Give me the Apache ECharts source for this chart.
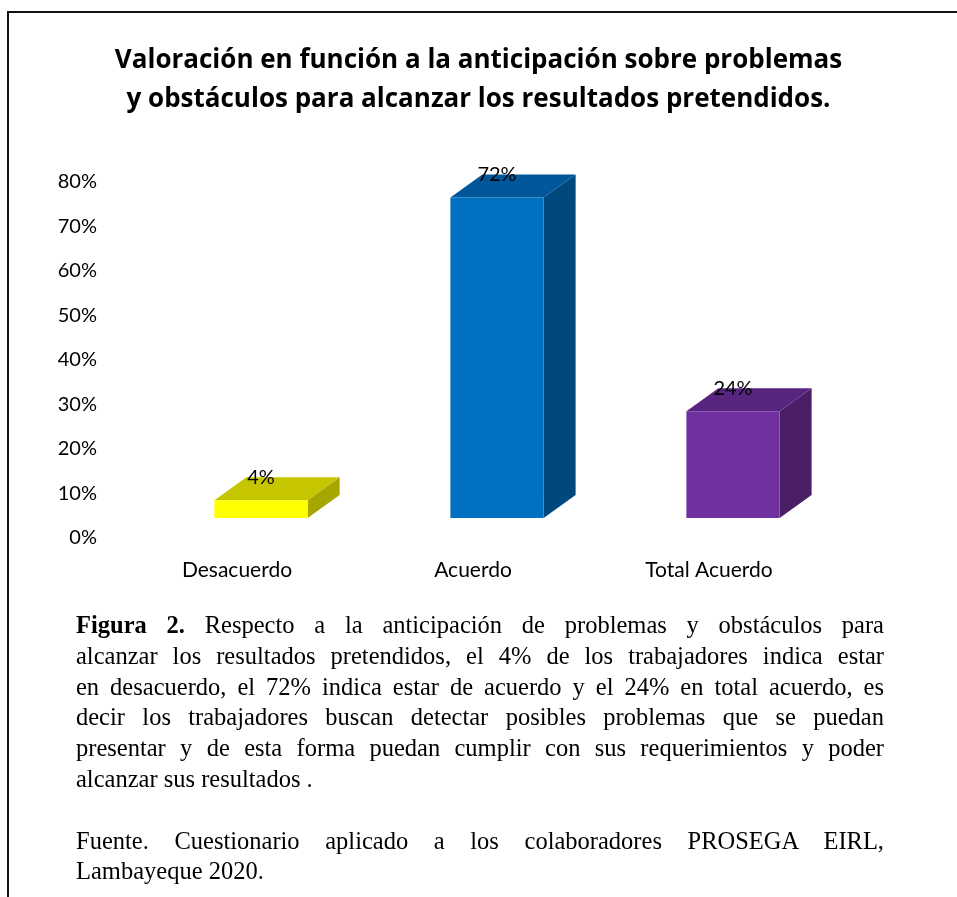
<!DOCTYPE html>
<html>
<head>
<meta charset="utf-8">
<script src="https://cdn.jsdelivr.net/npm/echarts@6/dist/echarts.min.js"></script>
<style>
html, body { margin: 0; padding: 0; background: #fff; }
#page { position: relative; width: 957px; height: 897px; overflow: hidden; }
#frame { position: absolute; left: 7px; top: 11px; right: -20px; bottom: -20px;
  border-top: 2px solid #111; border-left: 2px solid #111; }
#chart { position: absolute; left: 0; top: 0; width: 957px; height: 897px; }
#caption { position: absolute; left: 76px; top: 610px; width: 808px;
  font-family: "Liberation Serif", "Times New Roman", serif; font-size: 24.5px;
  line-height: 30.8px; color: #000; }
#caption div { white-space: nowrap; text-align: justify; text-align-last: justify; }
#caption div.last { text-align-last: left; }
</style>
</head>
<body>
<div id="page">
  <div id="frame"></div>
  <div id="chart"></div>
  <div id="caption">
    <div><b>Figura 2.</b> Respecto a la anticipación de problemas y obstáculos para</div>
    <div>alcanzar los resultados pretendidos, el 4% de los trabajadores indica estar</div>
    <div>en desacuerdo, el 72% indica estar de acuerdo y el 24% en total acuerdo, es</div>
    <div>decir los trabajadores buscan detectar posibles problemas que se puedan</div>
    <div>presentar y de esta forma puedan cumplir con sus requerimientos y poder</div>
    <div class="last">alcanzar sus resultados .</div>
    <div class="last">&nbsp;</div>
    <div>Fuente. Cuestionario aplicado a los colaboradores PROSEGA EIRL,</div>
    <div class="last">Lambayeque 2020.</div>
  </div>
</div>
<script>
// datos
var categories = ['Desacuerdo', 'Acuerdo', 'Total Acuerdo'];
var values = [4, 72, 24];

// colores de cada caja (frente, tapa, lado)
var palette = [
  {front: '#FFFF00', top: '#C6C600', side: '#A6A600'},
  {front: '#0070C0', top: '#00589A', side: '#00497F'},
  {front: '#7030A0', top: '#57257F', side: '#4A1F66'}
];

// efecto 3D
var SHIFT = 24, LIFT = 20, DX = 32, DY = 23;
var labelFont = 'Lato, "Open Sans", sans-serif';

function renderBox(params, api) {
  var i = api.value(0), v = api.value(1);
  var base = api.coord([i, 0]);
  var top = api.coord([i, v]);
  var w = api.size([1, 0])[0] * 0.395;
  var x0 = base[0] + SHIFT - w / 2, x1 = x0 + w;
  var yb = base[1] - LIFT, yt = top[1] - LIFT;
  var c = palette[i];
  return {
    type: 'group',
    children: [
      {type: 'polygon', shape: {points: [[x1, yt], [x1 + DX, yt - DY], [x1 + DX, yb - DY], [x1, yb]]}, style: {fill: c.side}},
      {type: 'polygon', shape: {points: [[x0, yt], [x1, yt], [x1 + DX, yt - DY], [x0 + DX, yt - DY]]}, style: {fill: c.top}},
      {type: 'rect', shape: {x: x0, y: yt, width: w, height: yb - yt}, style: {fill: c.front}},
      {type: 'text', x: x0 + w / 2, y: yt - DY,
        style: {text: v + '%', fill: '#000', fontSize: 20, fontFamily: labelFont, align: 'center', verticalAlign: 'middle'}}
    ]
  };
}

var chart = echarts.init(document.getElementById('chart'));
chart.setOption({
  animation: false,
  backgroundColor: 'transparent',
  title: {
    text: 'Valoración en función a la anticipación sobre problemas\ny obstáculos para alcanzar los resultados pretendidos.',
    left: 'center', top: 36,
    textStyle: {fontFamily: '"Open Sans", Lato, sans-serif', fontWeight: 'bold', fontSize: 26, lineHeight: 39, color: '#000'}
  },
  grid: {left: 119, right: 130, top: 182, bottom: 359, outerBoundsMode: 'none'},
  xAxis: {
    type: 'category', data: categories,
    axisLine: {show: false}, axisTick: {show: false},
    axisLabel: {margin: 22, color: '#000', fontSize: 21, fontFamily: labelFont}
  },
  yAxis: {
    type: 'value', min: 0, max: 80, interval: 10,
    axisLine: {show: false}, axisTick: {show: false}, splitLine: {show: false},
    axisLabel: {margin: 22, color: '#000', fontSize: 20, fontFamily: labelFont, formatter: '{value}%'}
  },
  series: [{
    type: 'custom',
    renderItem: renderBox,
    data: values.map(function (v, i) { return [i, v]; })
  }]
});
</script>
</body>
</html>
